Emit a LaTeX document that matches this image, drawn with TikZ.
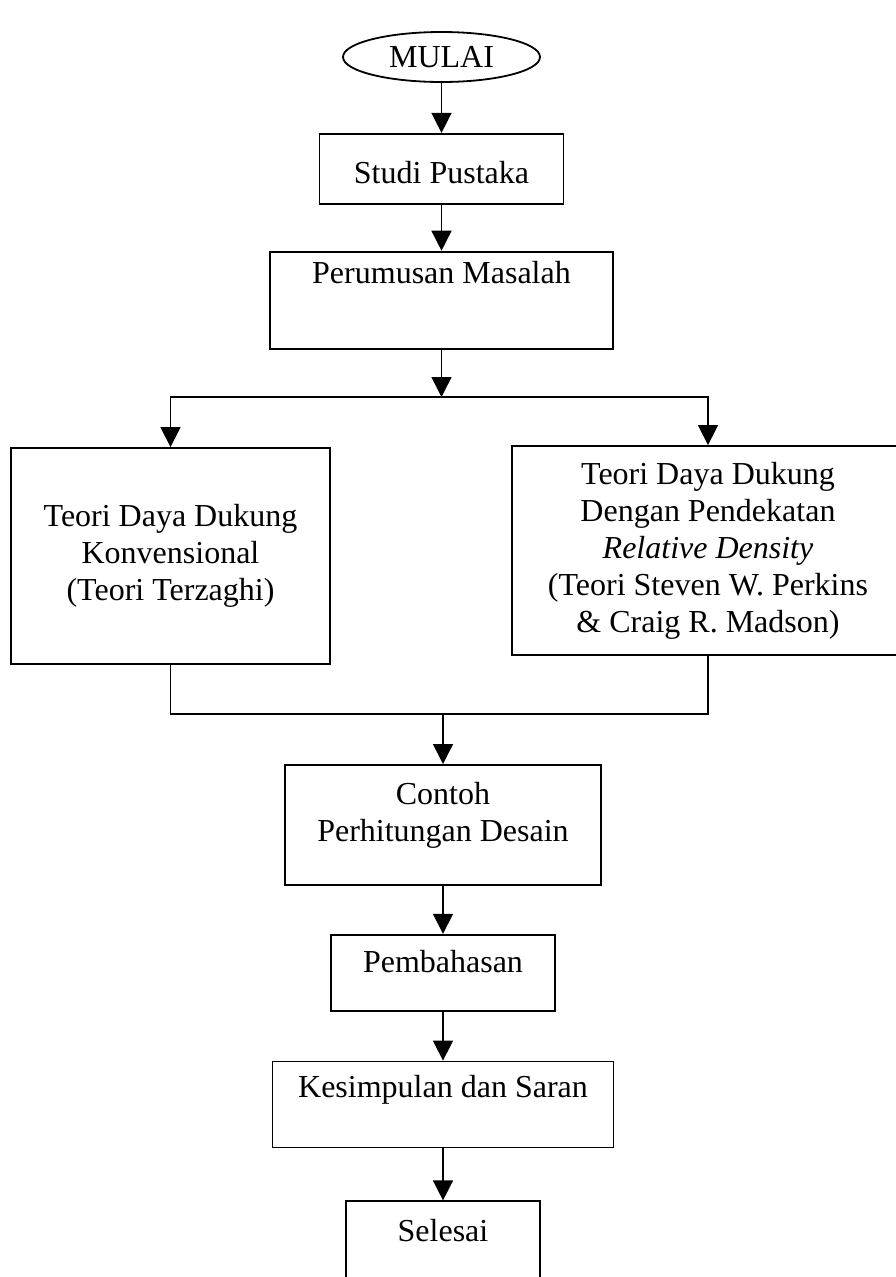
\documentclass[tikz,border=0pt]{standalone}
\usepackage{fontspec}
\setmainfont{Liberation Serif}
\usetikzlibrary{arrows.meta,positioning,shapes.geometric}

\begin{document}
\begin{tikzpicture}[
  x=1pt, y=-1pt,
  box/.style={rectangle, draw, line width=1.8pt, align=center, inner sep=0pt,
              font=\fontsize{32}{37}\selectfont},
  start/.style={ellipse, draw, line width=1.8pt, inner sep=0pt,
              minimum width=197pt, minimum height=50pt, font=\fontsize{32}{37}\selectfont},
  arr/.style={-{Triangle[length=20pt, width=20pt]}, line width=1.5pt},
  link/.style={line width=1.5pt}
]
\clip (0,0) rectangle (896,1277);
\node[start] (mulai) at (441.5,57) {MULAI};
\node[box, below=50pt of mulai, minimum width=244pt, minimum height=70pt,
      text height=30pt, text depth=0pt] (studi) {Studi Pustaka};
\node[box, below=46pt of studi, minimum width=343pt, minimum height=97pt,
      text height=22pt, text depth=55pt] (perumusan) {Perumusan Masalah};

\coordinate (split) at (441.5,397);
\node[box, minimum width=319pt, minimum height=216pt] (konv) at (170.5,556)
  {Teori Daya Dukung\\Konvensional\\(Teori Terzaghi)};
\node[box, minimum width=392pt, minimum height=209pt] (relden) at (708,550.5)
  {Teori Daya Dukung\\Dengan Pendekatan\\\textit{Relative Density}\\(Teori Steven W. Perkins\\\& Craig R. Madson)};
\coordinate (merge) at (443,714);

\node[box, below=50pt of merge, minimum width=316pt, minimum height=120pt,
      text depth=27pt] (contoh) {Contoh\\Perhitungan Desain};
\node[box, below=48pt of contoh, minimum width=224pt, minimum height=76pt,
      text height=22pt, text depth=22pt] (bahas) {Pembahasan};
\node[box, below=49pt of bahas, minimum width=341pt, minimum height=86pt,
      text height=22pt, text depth=36pt] (simpul) {Kesimpulan dan Saran};
\node[box, below=52pt of simpul, minimum width=194pt, minimum height=110pt,
      text height=22pt, text depth=52pt] (selesai) {Selesai};

\draw[arr] (mulai) -- (studi);
\draw[arr] (studi) -- (perumusan);
\draw[arr] (perumusan) -- (split);
\draw[arr] (split) -| (konv.north);
\draw[arr] (split) -| (relden.north);
\draw[link] (konv.south) |- (merge);
\draw[link] (relden.south) |- (merge);
\draw[arr] (merge) -- (contoh);
\draw[arr] (contoh) -- (bahas);
\draw[arr] (bahas) -- (simpul);
\draw[arr] (simpul) -- (selesai);
\end{tikzpicture}
\end{document}
